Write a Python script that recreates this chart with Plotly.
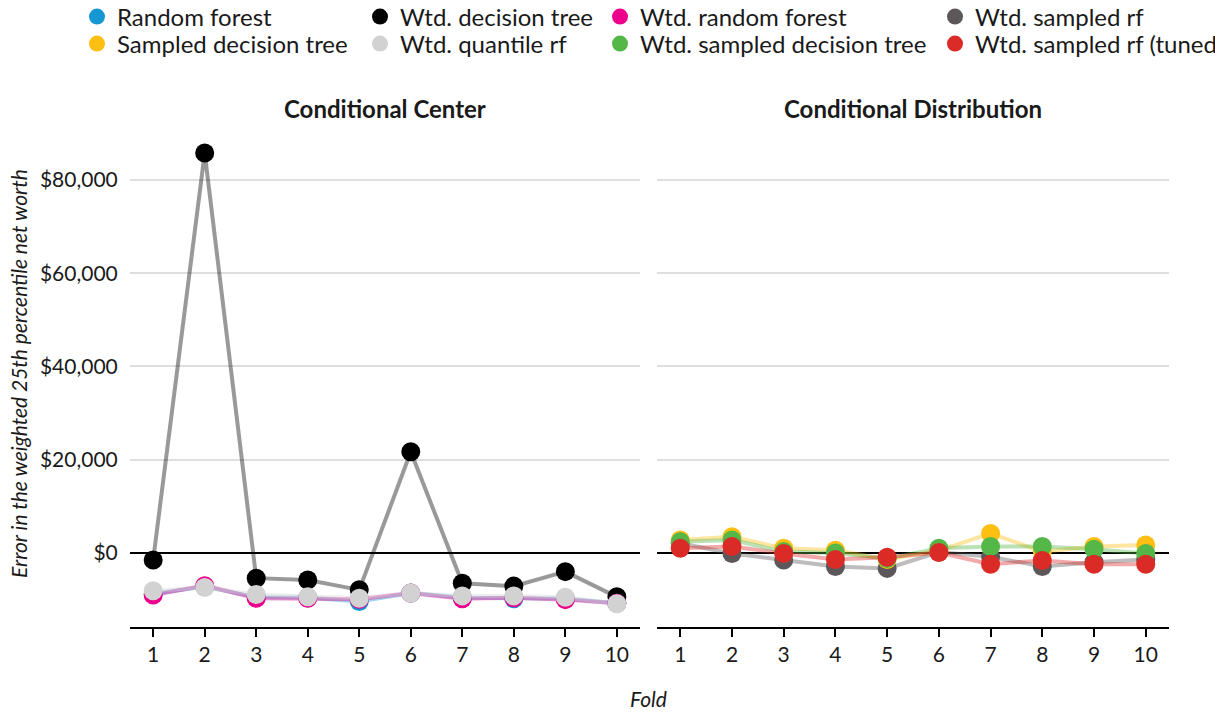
import plotly.graph_objects as go

folds = [1, 2, 3, 4, 5, 6, 7, 8, 9, 10]

# Conditional Center panel
random_forest = [-8800, -7200, -9500, -9600, -10400, -8600, -9600, -9800, -9800, -10800]
wtd_decision_tree = [-1500, 85800, -5400, -5800, -7900, 21700, -6500, -7100, -4000, -9400]
wtd_random_forest = [-9000, -7000, -9700, -9700, -9900, -8600, -9800, -9600, -10000, -10800]
wtd_quantile_rf = [-8100, -7400, -8900, -9400, -9700, -8600, -9200, -9200, -9500, -10900]

# Conditional Distribution panel
sampled_decision_tree = [2800, 3500, 1000, 600, -1400, 500, 4200, 300, 1400, 1700]
wtd_sampled_decision_tree = [2400, 2800, 300, 0, -1200, 1000, 1400, 1400, 800, -100]
wtd_sampled_rf = [2100, -100, -1500, -2900, -3300, 200, -800, -2900, -2000, -1400]
wtd_sampled_rf_tuned = [1000, 1400, -100, -1400, -900, 100, -2400, -1600, -2400, -2400]

y_ticks = [0, 20000, 40000, 60000, 80000]
y_tick_labels = ["$0", "$20,000", "$40,000", "$60,000", "$80,000"]
panel_titles = ["Conditional Center", "Conditional Distribution"]

FONT = "Lato"
TXT = "#1a1a1a"

# (name, values, color, panel, legend id)
series = [
    ("Wtd. decision tree", wtd_decision_tree, (0, 0, 0), 1, "legend3"),
    ("Random forest", random_forest, (22, 150, 210), 1, "legend"),
    ("Wtd. random forest", wtd_random_forest, (236, 0, 139), 1, "legend5"),
    ("Wtd. quantile rf", wtd_quantile_rf, (210, 210, 210), 1, "legend4"),
    ("Wtd. sampled rf", wtd_sampled_rf, (92, 88, 89), 2, "legend7"),
    ("Sampled decision tree", sampled_decision_tree, (253, 191, 17), 2, "legend2"),
    ("Wtd. sampled decision tree", wtd_sampled_decision_tree, (85, 183, 72), 2, "legend6"),
    ("Wtd. sampled rf (tuned)", wtd_sampled_rf_tuned, (219, 43, 39), 2, "legend8"),
]

fig = go.Figure()

# lines first
for name, vals, rgb, panel, lg in series:
    xa = "x" if panel == 1 else "x2"
    ya = "y" if panel == 1 else "y2"
    fig.add_trace(go.Scatter(
        x=folds, y=vals, mode="lines", xaxis=xa, yaxis=ya,
        line=dict(color="rgba(%d,%d,%d,0.4)" % rgb, width=4),
        showlegend=False, hoverinfo="skip",
    ))

# then points
for name, vals, rgb, panel, lg in series:
    xa = "x" if panel == 1 else "x2"
    ya = "y" if panel == 1 else "y2"
    fig.add_trace(go.Scatter(
        x=folds, y=vals, mode="markers", xaxis=xa, yaxis=ya, name=name,
        marker=dict(color="rgb(%d,%d,%d)" % rgb, size=19),
        legend=lg, showlegend=True,
    ))

xcommon = dict(
    range=[0.55, 10.45], tickvals=folds, ticks="outside", ticklen=8, tickwidth=2,
    tickcolor="black", showline=True, linecolor="black", linewidth=2,
    showgrid=False, zeroline=False, tickfont=dict(family=FONT, size=21, color=TXT),
)
ycommon = dict(
    range=[-15870, 90500], tickmode="array", tickvals=y_ticks, showgrid=True,
    gridcolor="#dedede", gridwidth=1.5, zeroline=True, zerolinecolor="black",
    zerolinewidth=2, showline=False,
)

fig.update_layout(
    width=1215, height=712,
    margin=dict(l=130, r=46, t=131, b=85),
    paper_bgcolor="white", plot_bgcolor="white",
    font=dict(family=FONT, color=TXT),
    xaxis=dict(domain=[0, 0.4909], anchor="y", **xcommon),
    xaxis2=dict(domain=[0.5072, 1.0], anchor="y2", **xcommon),
    yaxis=dict(domain=[0, 1], anchor="x", ticktext=y_tick_labels,
               ticks="outside", ticklen=7, tickcolor="rgba(0,0,0,0)",
               tickfont=dict(family=FONT, size=21, color=TXT), **ycommon),
    yaxis2=dict(domain=[0, 1], anchor="x2", showticklabels=False, **ycommon),
    showlegend=True,
)

legend_font = dict(family=FONT, size=24, color=TXT)
col_x = [77, 360, 600, 935]
row_y = [17, 44]
legend_ids = ["legend", "legend2", "legend3", "legend4", "legend5", "legend6", "legend7", "legend8"]
legend_layout = {}
for i, lid in enumerate(legend_ids):
    c, r = divmod(i, 2)
    legend_layout[lid] = dict(
        xref="container", yref="container", xanchor="left", yanchor="middle",
        x=col_x[c] / 1215, y=1 - row_y[r] / 712,
        orientation="h", font=legend_font, bgcolor="rgba(0,0,0,0)",
        borderwidth=0, itemclick=False, itemdoubleclick=False,
    )
fig.update_layout(**legend_layout)

plot_h = 712 - 131 - 85
annotations = [
    dict(text="<b>%s</b>" % panel_titles[0], x=0.4909 / 2, y=1 + 23 / plot_h,
         xref="paper", yref="paper", xanchor="center", yanchor="middle",
         showarrow=False, font=dict(family=FONT, size=24, color=TXT)),
    dict(text="<b>%s</b>" % panel_titles[1], x=(0.5072 + 1.0) / 2, y=1 + 23 / plot_h,
         xref="paper", yref="paper", xanchor="center", yanchor="middle",
         showarrow=False, font=dict(family=FONT, size=24, color=TXT)),
    dict(text="<i>Fold</i>", x=(648 - 130) / 1039, y=-(698 - 627) / plot_h,
         xref="paper", yref="paper", xanchor="center", yanchor="middle",
         showarrow=False, font=dict(family=FONT, size=21, color=TXT)),
    dict(text="<i>Error in the weighted 25th percentile net worth</i>",
         x=(18 - 130) / 1039, y=(627 - 374) / plot_h, textangle=-90,
         xref="paper", yref="paper", xanchor="center", yanchor="middle",
         showarrow=False, font=dict(family=FONT, size=21, color=TXT)),
]
fig.update_layout(annotations=annotations)

fig.write_html("out.html")
